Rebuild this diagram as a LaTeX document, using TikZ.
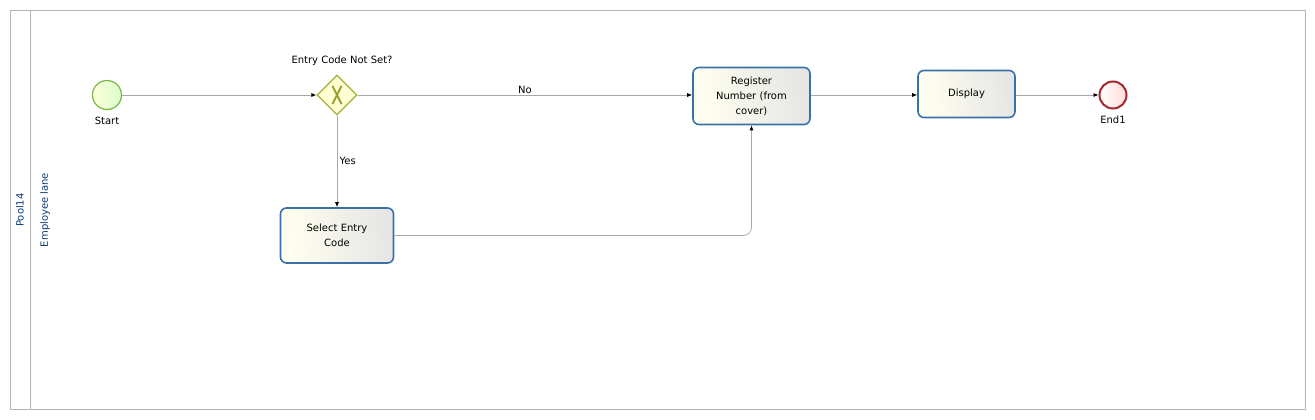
\documentclass[tikz,border=0pt]{standalone}
\usepackage{fontspec}
\setmainfont{DejaVu Sans}
\usetikzlibrary{shapes.geometric,arrows.meta,positioning}
\definecolor{poolgray}{HTML}{B4B4B4}
\definecolor{flowgray}{HTML}{A8A8A8}
\definecolor{taskblue}{HTML}{3A70A8}
\definecolor{startgreen}{HTML}{7AB648}
\definecolor{gateolive}{HTML}{A3B23A}
\definecolor{endred}{HTML}{A12A2E}
\definecolor{labelblue}{HTML}{0A3A78}
\tikzset{
  lbl/.style={font=\fontsize{10}{15}\selectfont, align=center},
  task/.style={draw=taskblue, line width=1.6pt, rounded corners=6pt, left color=white!90!yellow!60, right color=black!10, shading angle=100, lbl, inner sep=2pt},
  startev/.style={circle, draw=startgreen, line width=1.2pt, inner sep=0pt, minimum size=29pt, left color=white!85!yellow, right color=yellow!25!green!20},
  endev/.style={circle, draw=endred, line width=2pt, inner sep=0pt, minimum size=27pt, left color=white, right color=red!15},
  gate/.style={diamond, draw=gateolive, line width=1.2pt, inner sep=0pt, minimum width=40pt, minimum height=40pt, fill=yellow!18!white},
  flow/.style={draw=flowgray, line width=0.7pt, -{Latex[length=5pt,width=4pt,fill=black,color=black]}}
}
\begin{document}
\begin{tikzpicture}[x=1pt,y=-1pt]
  \useasboundingbox (0,0) rectangle (1315,420);
  % pool and lane
  \draw[poolgray, line width=0.8pt] (10,10) rectangle (1305,409);
  \draw[poolgray, line width=0.8pt] (30,10) -- (30,409);
  \node[lbl, rotate=90, text=labelblue] (pool) at (20,210) {Pool14};
  \node[lbl, rotate=90, text=labelblue] (lane) at (45,210) {Employee lane};
  % events, gateway, tasks
  \node[startev] (start) at (107,95) {};
  \node[lbl, below=3pt of start] (startlbl) {Start};
  \node[gate, path picture={
      \draw[gateolive!90!black, line width=2pt] ([xshift=-4.5pt,yshift=9pt]path picture bounding box.center) -- ([xshift=4.5pt,yshift=-9pt]path picture bounding box.center)
        ([xshift=4.5pt,yshift=9pt]path picture bounding box.center) -- ([xshift=-4.5pt,yshift=-9pt]path picture bounding box.center);}] (gw) at (337,95) {};
  \node[lbl, above=5pt of gw, xshift=5pt] (gwlbl) {Entry Code Not Set?};
  \node[task, minimum width=117pt, minimum height=57pt, text width=100pt] (reg) at (751.5,96) {Register\\Number (from\\cover)};
  \node[task, minimum width=97pt, minimum height=47pt] (disp) at (966.5,94) {Display};
  \node[task, minimum width=113pt, minimum height=55pt, text width=100pt] (sel) at (337,235.5) {Select Entry\\Code};
  \node[endev] (end) at (1113,95) {};
  \node[lbl, below=3pt of end] (endlbl) {End1};
  % sequence flows
  \draw[flow] (start) -- (gw.west);
  \draw[flow] (gw.east) -- node[lbl, above=-2pt, pos=0.5] (no) {No} (gw.east -| reg.west);
  \draw[flow] (gw.south) -- node[lbl, right=-1pt, pos=0.5] (yes) {Yes} (sel.north);
  \draw[flow, rounded corners=8pt] (sel.east) -| (reg.south);
  \draw[flow] (gw.east -| reg.east) -- (gw.east -| disp.west);
  \draw[flow] (disp.east |- end) -- (end.west);
\end{tikzpicture}
\end{document}
